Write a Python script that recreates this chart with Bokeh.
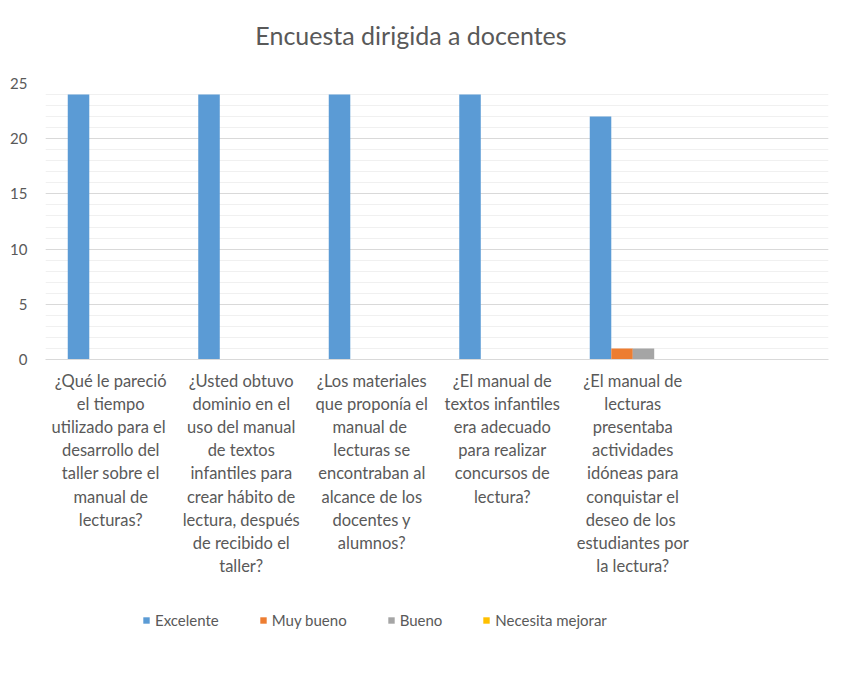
import numpy as np
from bokeh.plotting import figure
from bokeh.layouts import column
from bokeh.models import Range1d, FixedTicker, Legend, LegendItem
from bokeh.core.properties import value
from bokeh.embed import file_html
from bokeh.resources import INLINE

title_text = "Encuesta dirigida a docentes"
categories = [
    "¿Qué le pareció\nel tiempo\nutilizado  para el\ndesarrollo del\ntaller sobre el\nmanual de\nlecturas?",
    "¿Usted obtuvo\ndominio en el\nuso del manual\nde textos\ninfantiles para\ncrear hábito de\nlectura, después\nde recibido el\ntaller?",
    "¿Los materiales\nque proponía el\nmanual  de\nlecturas se\nencontraban al\nalcance de los\ndocentes y\nalumnos?",
    "¿El manual de\ntextos infantiles\nera adecuado\npara realizar\nconcursos de\nlectura?",
    "¿El manual de\nlecturas\npresentaba\nactividades\nidóneas para\nconquistar el\ndeseo de  los\nestudiantes por\nla lectura?",
]
series_names = ["Excelente", "Muy bueno", "Bueno", "Necesita mejorar"]
excelente = [24, 24, 24, 24, 22]
muy_bueno = [0, 0, 0, 0, 1]
bueno = [0, 0, 0, 0, 1]
necesita_mejorar = [0, 0, 0, 0, 0]
y_ticks = [0, 5, 10, 15, 20, 25]

series_values = [excelente, muy_bueno, bueno, necesita_mejorar]
colors = ["#5b9bd5", "#ed7d31", "#a5a5a5", "#ffc000"]
offsets = [-0.247, -0.082, 0.082, 0.247]
bar_w = 0.165
n_slots = 6

TXT = "#595959"
FONT = "Lato"
W = 856
BL, BR = 45, 28
TITLE_H = 62


def strip(height, y0, y1):
    f = figure(width=W, height=height, output_backend="svg", toolbar_location=None,
               x_range=Range1d(BL, W - BR), y_range=Range1d(y0, y1),
               min_border_left=BL, min_border_right=BR, min_border_top=0, min_border_bottom=0)
    f.axis.visible = False
    f.grid.visible = False
    f.outline_line_color = None
    f.border_fill_color = "white"
    f.background_fill_color = "white"
    return f


# ---- title strip ----
ts = strip(TITLE_H, 0, TITLE_H)
ts.text(x=[410.5], y=[TITLE_H - 34], text=[title_text], text_align="center", text_baseline="middle",
        text_font=value(FONT), text_font_size="25px", text_color=TXT)

# ---- main chart ----
p = figure(width=W, height=538, output_backend="svg", toolbar_location=None,
           x_range=Range1d(0, n_slots), y_range=Range1d(0, 25),
           min_border_left=BL, min_border_right=BR, min_border_top=21,
           min_border_bottom=241)
p.outline_line_color = None
p.background_fill_color = "white"
p.border_fill_color = "white"

centers = np.arange(len(categories)) + 0.5
for vals, col, off in zip(series_values, colors, offsets):
    p.vbar(x=centers + off, top=vals, width=bar_w, bottom=0,
           fill_color=col, line_color=None)

p.yaxis.ticker = FixedTicker(ticks=y_ticks)
p.yaxis.axis_line_color = None
p.yaxis.major_tick_line_color = None
p.yaxis.major_tick_out = 0
p.yaxis.major_tick_in = 0
p.yaxis.minor_tick_line_color = None
p.yaxis.minor_tick_out = 0
p.yaxis.major_label_standoff = 18
p.yaxis.major_label_text_font = FONT
p.yaxis.major_label_text_font_size = "15px"
p.yaxis.major_label_text_color = TXT

p.xaxis.ticker = FixedTicker(ticks=list(centers))
p.xaxis.major_label_overrides = {float(c): lab for c, lab in zip(centers, categories)}
p.xaxis.axis_line_color = "#d9d9d9"
p.xaxis.axis_line_width = 1
p.xaxis.major_tick_line_color = None
p.xaxis.major_tick_out = 0
p.xaxis.major_tick_in = 0
p.xaxis.minor_tick_line_color = None
p.xaxis.minor_tick_out = 0
p.xaxis.major_label_standoff = 11
p.xaxis.major_label_text_font = FONT
p.xaxis.major_label_text_font_size = "16.5px"
p.xaxis.major_label_text_color = TXT
p.xaxis.major_label_text_line_height = 1.16

p.xgrid.grid_line_color = None
p.ygrid.ticker = FixedTicker(ticks=y_ticks, minor_ticks=list(range(0, 26)))
p.ygrid.grid_line_color = "#d9d9d9"
p.ygrid.minor_grid_line_color = "#f0f0f0"

# ---- legend strip (its bars lie outside its visible range; only the swatches show) ----
lg = strip(40, 1000, 1040)
lg_renderers = [lg.vbar(x=centers + off, top=vals, width=bar_w, fill_color=c, line_color=None)
                for vals, c, off in zip(series_values, colors, offsets)]
legend = Legend(items=[LegendItem(label=n, renderers=[r]) for n, r in zip(series_names, lg_renderers)],
                orientation="horizontal", location=(97, 11),
                glyph_width=8, glyph_height=8, label_standoff=5, spacing=40,
                padding=0, margin=0, border_line_color=None, background_fill_alpha=0,
                label_text_font=FONT, label_text_font_size="15px", label_text_color=TXT)
lg.add_layout(legend)

layout = column(ts, p, lg, spacing=0)
open("out.html", "w").write(file_html(layout, INLINE))
